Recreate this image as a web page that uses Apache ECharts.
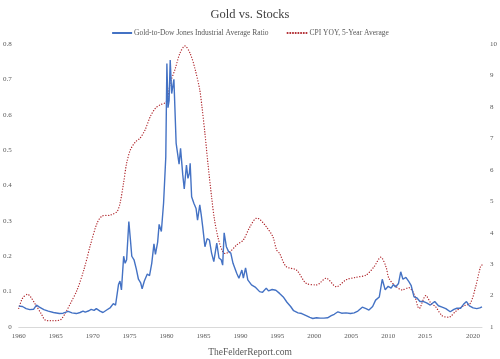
<!DOCTYPE html>
<html><head><meta charset="utf-8">
<script src="https://cdn.jsdelivr.net/npm/echarts@6/dist/echarts.min.js"></script>
<style>html,body{margin:0;padding:0;background:#fff}#c{width:500px;height:359px}</style>
</head><body><div id="c"></div>
<script>
const titleText = 'Gold vs. Stocks';
const footerText = 'TheFelderReport.com';
const seriesNames = ['Gold-to-Dow Jones Industrial Average Ratio', 'CPI YOY, 5-Year Average'];
const xTickYears = [1960,1965,1970,1975,1980,1985,1990,1995,2000,2005,2010,2015,2020];

// Gold-to-Dow ratio: [year, ratio]
const goldDow = [
[1960.0,0.059],[1960.5,0.058],[1961.0,0.052],[1961.5,0.049],[1962.0,0.050],[1962.4,0.062],[1962.8,0.056],
[1963.4,0.049],[1964.0,0.045],[1964.7,0.041],[1965.5,0.038],[1966.0,0.039],[1966.7,0.044],[1967.2,0.040],
[1967.8,0.038],[1968.3,0.041],[1968.7,0.045],[1969.0,0.042],[1969.5,0.046],[1969.8,0.050],[1970.2,0.047],
[1970.5,0.052],[1971.0,0.045],[1971.4,0.041],[1971.9,0.048],[1972.4,0.055],[1972.8,0.066],[1973.1,0.062],
[1973.5,0.120],[1973.7,0.130],[1973.9,0.105],[1974.2,0.200],[1974.4,0.180],[1974.6,0.190],[1974.9,0.298],
[1975.1,0.250],[1975.3,0.200],[1975.6,0.190],[1975.9,0.165],[1976.2,0.135],[1976.5,0.125],[1976.7,0.108],
[1977.0,0.130],[1977.4,0.150],[1977.7,0.145],[1978.0,0.180],[1978.3,0.235],[1978.5,0.205],[1978.8,0.240],
[1979.0,0.290],[1979.3,0.270],[1979.6,0.350],[1979.9,0.480],[1980.05,0.745],[1980.2,0.620],[1980.35,0.640],
[1980.5,0.755],[1980.7,0.660],[1981.0,0.700],[1981.3,0.520],[1981.5,0.490],[1981.7,0.460],[1981.9,0.505],
[1982.2,0.430],[1982.4,0.390],[1982.7,0.458],[1982.9,0.420],[1983.1,0.435],[1983.2,0.463],[1983.4,0.368],
[1983.7,0.350],[1984.0,0.335],[1984.2,0.302],[1984.5,0.345],[1984.7,0.317],[1984.9,0.283],[1985.2,0.227],
[1985.5,0.250],[1985.8,0.246],[1986.1,0.209],[1986.4,0.185],[1986.8,0.237],[1987.1,0.195],[1987.4,0.190],
[1987.6,0.175],[1987.8,0.266],[1988.1,0.227],[1988.4,0.213],[1988.7,0.209],[1989.0,0.180],[1989.5,0.152],
[1989.8,0.138],[1990.2,0.161],[1990.4,0.138],[1990.7,0.167],[1991.0,0.133],[1991.5,0.119],[1992.0,0.113],
[1992.6,0.100],[1993.0,0.098],[1993.5,0.110],[1993.8,0.102],[1994.3,0.106],[1994.8,0.104],[1995.3,0.095],
[1995.8,0.085],[1996.3,0.070],[1996.8,0.058],[1997.2,0.046],[1997.8,0.040],[1998.3,0.038],[1998.9,0.032],
[1999.4,0.027],[1999.8,0.024],[2000.3,0.026],[2000.8,0.025],[2001.3,0.025],[2001.8,0.026],[2002.3,0.032],
[2002.7,0.036],[2003.2,0.043],[2003.7,0.039],[2004.3,0.040],[2004.9,0.038],[2005.4,0.040],[2005.9,0.045],
[2006.5,0.056],[2007.0,0.052],[2007.4,0.048],[2007.9,0.058],[2008.3,0.076],[2008.8,0.085],[2009.2,0.135],
[2009.6,0.105],[2010.0,0.115],[2010.4,0.110],[2010.7,0.120],[2011.0,0.113],[2011.4,0.123],[2011.7,0.156],
[2012.0,0.135],[2012.4,0.140],[2012.8,0.128],[2013.1,0.118],[2013.5,0.085],[2013.9,0.082],[2014.3,0.072],
[2014.8,0.072],[2015.2,0.068],[2015.7,0.062],[2016.3,0.072],[2016.8,0.060],[2017.3,0.056],[2017.8,0.052],
[2018.4,0.043],[2018.9,0.050],[2019.3,0.053],[2019.8,0.053],[2020.2,0.064],[2020.6,0.072],[2021.0,0.060],
[2021.5,0.054],[2022.0,0.052],[2022.4,0.054],[2022.7,0.057]
];

// CPI YoY, 5-year average: [year, percent]
const cpi5y = [
[1960.0,1.59],[1960.5,1.91],[1961.2,2.04],[1961.6,1.96],[1962.3,1.70],[1963.0,1.44],[1963.6,1.22],
[1964.3,1.20],[1965.0,1.20],[1965.7,1.24],[1966.3,1.44],[1967.0,1.75],[1967.9,2.18],[1968.8,2.81],
[1969.7,3.61],[1970.6,4.30],[1971.3,4.53],[1972.4,4.56],[1973.3,4.67],[1973.7,4.93],[1974.2,5.60],
[1974.6,6.21],[1975.1,6.63],[1975.8,6.89],[1976.4,7.00],[1977.1,7.27],[1977.8,7.69],[1978.5,7.96],
[1979.1,8.06],[1980.0,8.17],[1980.5,8.75],[1981.2,9.23],[1981.8,9.70],[1982.5,9.94],[1983.2,9.70],
[1983.9,9.17],[1984.5,8.54],[1984.8,8.00],[1985.2,7.16],[1985.6,6.21],[1986.1,5.14],[1986.5,4.40],
[1987.0,3.82],[1987.5,3.45],[1987.9,3.34],[1988.6,3.40],[1989.5,3.61],[1990.4,3.77],[1991.3,4.19],
[1992.2,4.46],[1992.6,4.43],[1993.5,4.19],[1994.4,3.87],[1994.9,3.45],[1995.3,3.34],[1996.2,2.92],
[1997.6,2.81],[1998.9,2.39],[2000.3,2.34],[2001.6,2.55],[2003.0,2.28],[2004.3,2.50],[2005.6,2.58],
[2007.0,2.65],[2008.1,2.92],[2009.0,3.22],[2009.7,2.92],[2010.1,2.55],[2011.0,2.30],[2011.9,2.18],
[2012.8,2.25],[2013.5,2.05],[2014.2,1.59],[2015.1,2.00],[2015.8,1.75],[2016.4,1.65],[2017.3,1.36],
[2018.2,1.31],[2019.1,1.49],[2020.2,1.67],[2021.1,1.75],[2021.8,2.25],[2022.5,2.92],[2022.7,2.97]
];

const FONT = 'Liberation Serif';
const TXT = '#595959';
const BLUE = '#4472C4';
const RED = '#B0282E';
const chart = echarts.init(document.getElementById('c'), null, {renderer:'canvas'});
chart.setOption({
  animation:false,
  backgroundColor:'#fff',
  title:[
    {text:titleText,left:'center',top:3,textStyle:{fontFamily:FONT,fontSize:12.5,fontWeight:'normal',color:'#404040'}},
    {text:footerText,left:'center',top:342,textStyle:{fontFamily:FONT,fontSize:9.5,fontWeight:'normal',color:TXT}}
  ],
  legend:{
    top:24,left:'center',itemWidth:20,itemHeight:8,itemGap:18,
    itemStyle:{opacity:0},
    textStyle:{fontFamily:FONT,fontSize:7.5,color:TXT,padding:[0,0,0,-3]},
    data:seriesNames
  },
  grid:{left:18,right:17,top:44,bottom:32,containLabel:false},
  xAxis:{
    type:'value',min:1960,max:2022.7,interval:5,
    axisLine:{show:true,lineStyle:{color:'#d9d9d9',width:1}},
    axisTick:{show:false},splitLine:{show:false},
    axisLabel:{
      fontFamily:FONT,fontSize:7,color:TXT,margin:6,showMaxLabel:false,
      formatter:function(v){
        if(xTickYears.indexOf(v)<0) return '';
        return v===2020 ? '{s|'+v+'}' : String(v);
      },
      rich:{s:{fontFamily:FONT,fontSize:7,color:TXT,padding:[0,0,0,22]}}
    }
  },
  yAxis:[
    {type:'value',min:0,max:0.8,interval:0.1,position:'left',
     axisLine:{show:false},axisTick:{show:false},splitLine:{show:false},
     axisLabel:{fontFamily:FONT,fontSize:7,color:TXT,margin:7,
       formatter:function(v){return v===0?'0':(+v.toFixed(1)).toString();}}},
    {type:'value',min:1,max:10,interval:1,position:'right',
     axisLine:{show:false},axisTick:{show:false},splitLine:{show:false},
     axisLabel:{fontFamily:FONT,fontSize:7,color:TXT,margin:8}}
  ],
  series:[
    {name:seriesNames[0],type:'line',yAxisIndex:0,data:goldDow,symbol:'none',
     lineStyle:{color:BLUE,width:1.4},itemStyle:{color:BLUE},z:3},
    {name:seriesNames[1],type:'line',yAxisIndex:1,data:cpi5y,symbol:'none',smooth:0.3,
     lineStyle:{color:RED,width:1.3,type:[0.1,2.6],cap:'round'},itemStyle:{color:RED},z:2}
  ]
});
</script></body></html>
